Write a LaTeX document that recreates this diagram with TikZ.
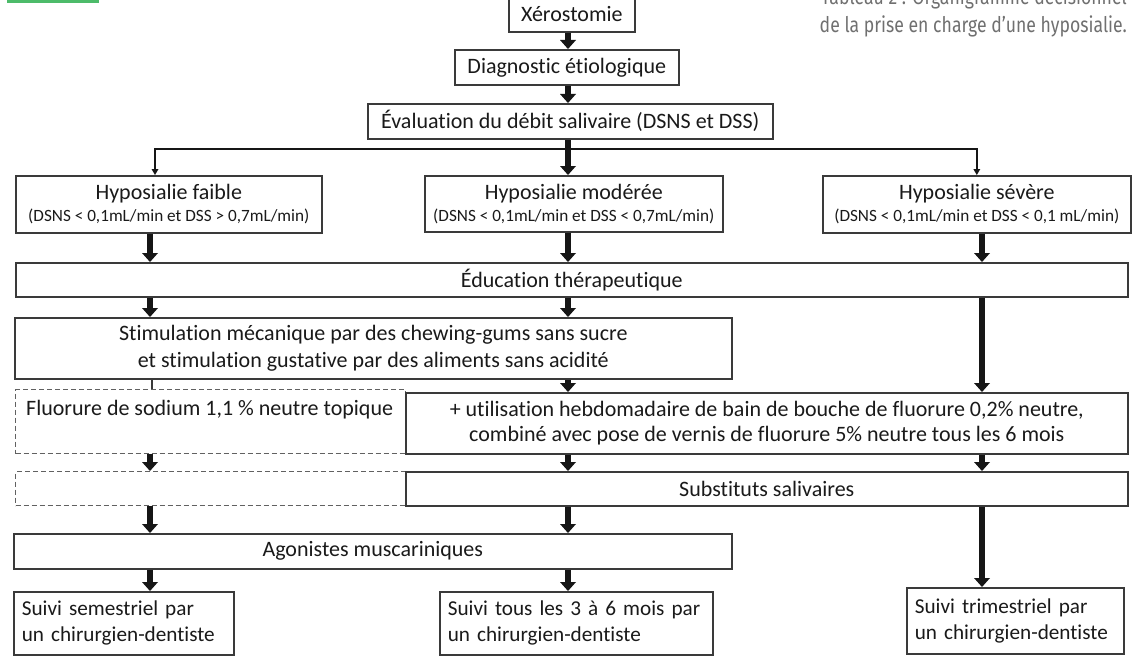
\documentclass[tikz,border=0pt]{standalone}
\usepackage{graphicx}
\usepackage{fontspec}
\setmainfont{Carlito}[Ligatures=NoCommon]
\newfontfamily\capfont{Fira Sans}
\usetikzlibrary{arrows.meta}
\definecolor{boxc}{HTML}{3A3A3A}
\definecolor{txtc}{HTML}{1A1A1A}
\definecolor{arrc}{HTML}{161616}
\definecolor{capc}{HTML}{707070}
\definecolor{greenbar}{HTML}{4DBB6A}
\newcommand\fsmain{\fontsize{22}{26}\selectfont}
\newcommand\fssuivi{\fontsize{21.2}{26}\selectfont}
\newcommand\fssmall{\fontsize{17.2}{20}\selectfont}
\begin{document}
\begin{tikzpicture}[x=1pt,y=-1pt,
 box/.style={draw=boxc, line width=1.6pt, inner sep=0pt, anchor=north west, align=center, text=txtc, font=\fsmain},
 dbox/.style={draw=boxc!80, line width=1.3pt, dash pattern=on 5pt off 3pt, anchor=north west, inner sep=0pt},
 lbox/.style={box, align=left, inner xsep=8pt, font=\fssuivi},
 bigarr/.style={draw=arrc, line width=6.5pt, -{Triangle[width=16pt,length=9pt,line width=0pt]}},
 thinarr/.style={draw=arrc, line width=1.4pt, -{Triangle[width=7pt,length=6pt,line width=0pt]}},
 thinline/.style={draw=boxc, line width=1.4pt},
 captxt/.style={anchor=base east, inner sep=0pt, text=capc, font=\capfont\fontsize{21.5}{24}\selectfont}]
\useasboundingbox (0,0) rectangle (1132,658);
\clip (0,0) rectangle (1132,658);
\fill[white] (0,0) rectangle (1132,658);
\fill[greenbar] (7,0) rectangle (99,3);

\node[captxt] (cap1) at (1127,5) {\scalebox{0.82}[1]{Tableau 2 : Organigramme décisionnel}};
\node[captxt] (cap2) at (1127,33) {\scalebox{0.82}[1]{de la prise en charge d’une hyposialie.}};

\node[box, minimum width=126pt, minimum height=35pt] (xero) at (508,-4) {Xérostomie};
\node[box, minimum width=224pt, minimum height=35pt] (diag) at (454,49) {Diagnostic étiologique};
\node[box, minimum width=405pt, minimum height=35pt] (eval) at (367,103) {Évaluation du débit salivaire (DSNS et DSS)};
\node[box, minimum width=306pt, minimum height=57pt] (faible) at (15,175) {Hyposialie faible\\[-4pt]{\fssmall (DSNS < 0,1mL/min et DSS > 0,7mL/min)}};
\node[box, minimum width=298pt, minimum height=56pt] (moderee) at (424,175) {Hyposialie modérée\\[-4pt]{\fssmall (DSNS < 0,1mL/min et DSS < 0,7mL/min)}};
\node[box, minimum width=308pt, minimum height=57pt] (severe) at (822,175) {Hyposialie sévère\\[-4pt]{\fssmall (DSNS < 0,1mL/min et DSS < 0,1 mL/min)}};
\node[box, minimum width=1112pt, minimum height=34pt] (edu) at (15,262) {Éducation thérapeutique};
\node[box, minimum width=717pt, minimum height=61pt] (stim) at (14,317) {Stimulation mécanique par des chewing-gums sans sucre\\[1pt]et stimulation gustative par des aliments sans acidité};
\node[dbox, minimum width=390pt, minimum height=64pt] (fluo) at (15,389) {};
\node[anchor=west, inner sep=0pt, text=txtc, font=\fsmain] (fluotxt) at (26,410) {Fluorure de sodium 1,1 \% neutre topique};
\node[box, minimum width=722pt, minimum height=61pt] (util) at (405,392) {+ utilisation hebdomadaire de bain de bouche de fluorure 0,2\% neutre,\\[-1pt]combiné avec pose de vernis de fluorure 5\% neutre tous les 6 mois};
\node[dbox, minimum width=390pt, minimum height=34pt] (dash2) at (15,471) {};
\node[box, minimum width=722pt, minimum height=34pt] (subst) at (405,471) {Substituts salivaires};
\node[box, minimum width=718pt, minimum height=35pt] (agon) at (13,533) {Agonistes muscariniques};
\node[lbox, text width=204pt, minimum height=63pt] (semes) at (13,591) {Suivi semestriel par\\un chirurgien-dentiste};
\node[lbox, text width=257pt, minimum height=63pt] (s36) at (439,591) {Suivi tous les 3 à 6 mois par\\un chirurgien-dentiste};
\node[lbox, text width=201pt, minimum height=66pt] (trim) at (906,587) {Suivi trimestriel par\\un chirurgien-dentiste};

\coordinate (cL) at (150,0);
\coordinate (cM) at (568,0);
\coordinate (cR) at (982,0);
\coordinate (tL) at (155,0);
\coordinate (sL) at (152,0);
\coordinate (split) at (568,149);

\draw[bigarr] (xero.south -| cM) -- (diag.north -| cM);
\draw[bigarr] (diag.south -| cM) -- (eval.north -| cM);
\draw[thinarr] (split) -| (faible.north -| tL);
\draw[thinarr] (split) -| (severe.north);
\draw[bigarr] (eval.south -| cM) -- (moderee.north -| cM);
\draw[bigarr] (faible.south -| cL) -- (edu.north -| cL);
\draw[bigarr] (moderee.south -| cM) -- (edu.north -| cM);
\draw[bigarr] (severe.south -| cR) -- (edu.north -| cR);
\draw[bigarr] (edu.south -| cL) -- (stim.north -| cL);
\draw[bigarr] (edu.south -| cM) -- (stim.north -| cM);
\draw[bigarr] (edu.south -| cR) -- (util.north -| cR);
\draw[thinline] (stim.south -| sL) -- (fluo.north -| sL);
\draw[bigarr] (stim.south -| cM) -- (util.north -| cM);
\draw[bigarr] (fluo.south -| cL) -- (dash2.north -| cL);
\draw[bigarr] (util.south -| cM) -- (subst.north -| cM);
\draw[bigarr] (util.south -| cR) -- (subst.north -| cR);
\draw[bigarr] (dash2.south -| cL) -- (agon.north -| cL);
\draw[bigarr] (subst.south -| cM) -- (agon.north -| cM);
\draw[bigarr] (subst.south -| cR) -- (trim.north -| cR);
\draw[bigarr] (agon.south -| cL) -- (semes.north -| cL);
\draw[bigarr] (agon.south -| cM) -- (s36.north -| cM);
\end{tikzpicture}
\end{document}
